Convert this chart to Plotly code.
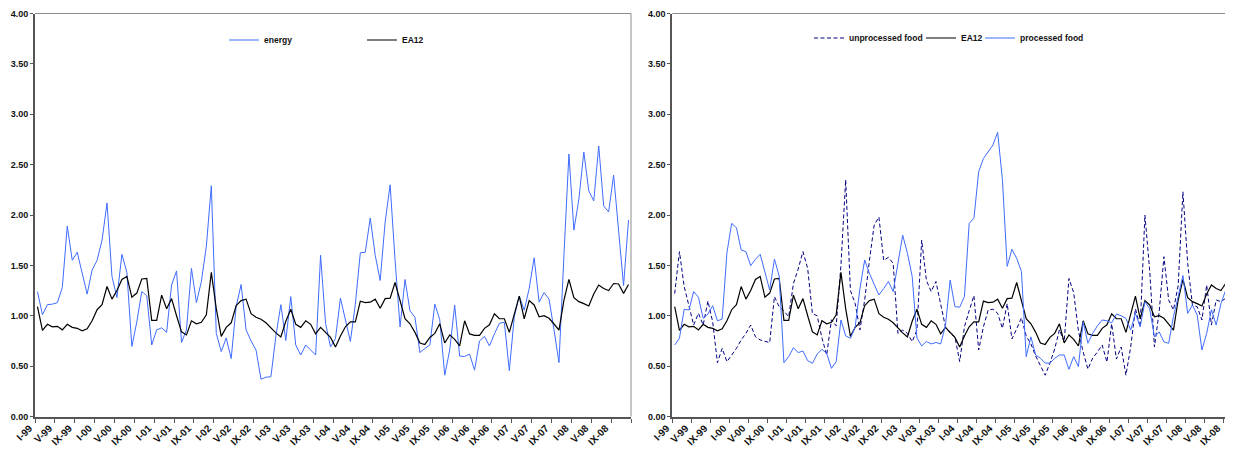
import plotly.graph_objects as go

# ---------------- data ----------------
tick_labels = ["I-99", "V-99", "IX-99", "I-00", "V-00", "IX-00", "I-01", "V-01", "IX-01",
               "I-02", "V-02", "IX-02", "I-03", "V-03", "IX-03", "I-04", "V-04", "IX-04",
               "I-05", "V-05", "IX-05", "I-06", "V-06", "IX-06", "I-07", "V-07", "IX-07",
               "I-08", "V-08", "IX-08"]

ea12 = [1.09, 0.855, 0.915, 0.89, 0.895, 0.86, 0.915, 0.885, 0.875, 0.85,
        0.87, 0.95, 1.06, 1.11, 1.29, 1.165, 1.25, 1.36, 1.39, 1.185,
        1.225, 1.365, 1.37, 0.955, 0.955, 1.205, 1.07, 1.17, 1.0, 0.84,
        0.81, 0.95, 0.92, 0.935, 1.01, 1.43, 1.07, 0.795, 0.885, 0.93,
        1.10, 1.15, 1.165, 1.02, 0.985, 0.965, 0.93, 0.875, 0.83, 0.79,
        0.945, 1.065, 0.915, 0.885, 0.95, 0.915, 0.82, 0.885, 0.835, 0.785,
        0.69, 0.80, 0.89, 0.94, 0.94, 1.145, 1.13, 1.135, 1.165, 1.075,
        1.17, 1.175, 1.33, 1.16, 0.97, 0.92, 0.835, 0.73, 0.715, 0.785,
        0.825, 0.92, 0.73, 0.81, 0.765, 0.70, 0.95, 0.82, 0.805, 0.805,
        0.875, 0.91, 1.02, 0.97, 0.97, 0.835, 1.025, 1.195, 0.97, 1.15,
        1.107, 0.99, 1.0, 0.975, 0.918, 0.858, 1.156, 1.36, 1.18, 1.14,
        1.12, 1.097, 1.216, 1.305, 1.27, 1.25, 1.32, 1.315, 1.222, 1.31]

energy = [1.24, 1.01, 1.11, 1.115, 1.13, 1.28, 1.89, 1.55, 1.63, 1.42,
          1.215, 1.455, 1.55, 1.75, 2.12, 1.39, 1.18, 1.61, 1.43, 0.695,
          0.94, 1.24, 1.20, 0.71, 0.86, 0.88, 0.835, 1.305, 1.445, 0.735,
          0.86, 1.47, 1.13, 1.34, 1.69, 2.29, 0.825, 0.645, 0.78, 0.575,
          1.09, 1.31, 0.86, 0.75, 0.66, 0.37, 0.39, 0.395, 0.80, 1.11,
          0.755, 1.19, 0.71, 0.61, 0.71, 0.66, 0.61, 1.60, 0.925, 0.69,
          0.775, 1.175, 0.96, 0.745, 1.115, 1.625, 1.63, 1.97, 1.60, 1.35,
          1.93, 2.30, 1.55, 0.89, 1.36, 1.05, 0.985, 0.635, 0.675, 0.71,
          1.115, 0.96, 0.41, 0.66, 1.105, 0.60, 0.595, 0.62, 0.46, 0.75,
          0.795, 0.70, 0.82, 0.925, 0.935, 0.455, 0.99, 1.195, 1.055, 1.27,
          1.575, 1.135, 1.23, 1.165, 0.86, 0.535, 1.60, 2.605, 1.85, 2.155,
          2.625, 2.24, 2.14, 2.685, 2.09, 2.03, 2.395, 1.85, 1.30, 1.95]

unprocessed_food = [1.22, 1.636, 1.29, 1.107, 0.908, 1.024, 0.908, 1.146, 0.94, 0.534,
                    0.676, 0.544, 0.61, 0.676, 0.76, 0.825, 0.908, 0.792, 0.76, 0.75,
                    0.733, 1.19, 1.09, 1.047, 0.99, 1.32, 1.464, 1.636, 1.47, 1.02,
                    1.0, 0.78, 0.61, 0.96, 0.90, 1.50, 2.35, 1.25, 1.12, 0.86,
                    1.156, 1.55, 1.90, 1.98, 1.55, 1.58, 1.52, 0.825, 0.858, 0.825,
                    0.743, 0.858, 1.75, 1.35, 1.24, 1.34, 1.12, 0.89, 0.825, 0.79,
                    0.545, 0.89, 1.05, 1.20, 0.66, 0.89, 1.057, 1.065, 1.024, 0.875,
                    1.12, 0.77, 0.87, 0.98, 0.80, 0.72, 0.60, 0.50, 0.41, 0.53,
                    0.67, 0.86, 0.74, 1.37, 1.23, 0.85, 0.64, 0.47, 0.58, 0.64,
                    0.71, 0.54, 0.92, 0.57, 0.69, 0.41, 0.69, 1.07, 0.89, 2.0,
                    1.45, 0.69, 1.04, 1.586, 1.156, 1.057, 1.30, 2.23, 1.52, 1.107,
                    1.09, 0.958, 1.305, 0.908, 1.156, 1.14, 1.173, 1.505, 1.48, 1.40]

processed_food = [0.71, 0.776, 1.064, 1.057, 1.24, 1.183, 0.974, 1.017, 1.10, 0.95,
                  0.967, 1.626, 1.917, 1.874, 1.653, 1.636, 1.497, 1.56, 1.61, 1.43,
                  1.256, 1.563, 1.394, 0.534, 0.594, 0.683, 0.634, 0.65, 0.554, 0.528,
                  0.62, 0.666, 0.627, 0.478, 0.544, 0.958, 0.80, 0.776, 0.89, 1.27,
                  1.553, 1.42, 1.305, 1.206, 1.27, 1.34, 1.24, 1.52, 1.80, 1.62,
                  1.39, 0.78, 0.70, 0.745, 0.72, 0.735, 0.72, 0.90, 1.355, 1.09,
                  1.085, 1.19, 1.917, 1.967, 2.43, 2.56, 2.63, 2.695, 2.82, 2.35,
                  1.49, 1.66, 1.57, 1.44, 0.594, 0.79, 0.61, 0.578, 0.53, 0.53,
                  0.578, 0.61, 0.61, 0.468, 0.594, 0.495, 0.94, 0.727, 0.826, 0.90,
                  0.958, 0.95, 0.93, 1.017, 1.0, 0.974, 0.858, 1.024, 0.89, 1.14,
                  1.07, 0.79, 0.84, 0.74, 0.727, 0.99, 1.19, 1.40, 1.024, 1.107,
                  1.007, 0.66, 0.825, 1.06, 0.908, 1.12, 1.255, 0.974, 1.10, 1.05]

months = list(range(len(ea12)))
tick_positions = months[::4]
boundaries = [m - 0.5 for m in months[::4]] + [len(months) - 0.5]

# ---------------- geometry (page px; the page body has an 8px margin) ----------------
OFF = 8
PAGE_W, PAGE_H = 1233, 455
W, H = PAGE_W - OFF, PAGE_H - OFF


def fx(px):
    return (px - OFF) / W


def fy(py):
    return (H - (py - OFF)) / H


BLUE = "#3f6cff"
NAVY = "#000080"
FONT = dict(family="Liberation Sans, Arial, sans-serif", size=9, color="#111", weight="bold")
XFONT = dict(family="Liberation Sans, Arial, sans-serif", size=10, color="#111", weight="bold")
LFONT = dict(family="Liberation Sans, Arial, sans-serif", size=8.5, color="#111", weight="bold")
AXIS = "#555555"
FRAME = "#8c8c8c"

ydom = [fy(416.5), fy(13.5)]
left_dom = [fx(35), fx(631)]
right_dom = [fx(672.3), 1.0]
right_px_per_month = 4.75
right_range = [-0.5, -0.5 + (PAGE_W - 672.3) / right_px_per_month]

fig = go.Figure()
fig.add_trace(go.Scatter(x=months, y=energy, name="energy", mode="lines", showlegend=True,
                         line=dict(color=BLUE, width=1), xaxis="x", yaxis="y", legend="legend"))
fig.add_trace(go.Scatter(x=months, y=ea12, name="EA12", mode="lines", showlegend=True,
                         line=dict(color="#000", width=1.2), xaxis="x", yaxis="y", legend="legend2"))
fig.add_trace(go.Scatter(x=months, y=unprocessed_food, name="unprocessed food", mode="lines",
                         showlegend=True,
                         line=dict(color=NAVY, width=1, dash="4px,2.5px"), xaxis="x2", yaxis="y2",
                         legend="legend3"))
fig.add_trace(go.Scatter(x=months, y=ea12, name="EA12", mode="lines", showlegend=True,
                         line=dict(color="#000", width=1.2), xaxis="x2", yaxis="y2", legend="legend4"))
fig.add_trace(go.Scatter(x=months, y=processed_food, name="processed food", mode="lines",
                         showlegend=True,
                         line=dict(color=BLUE, width=1), xaxis="x2", yaxis="y2", legend="legend5"))


def xaxis(domain, rng, anchor):
    return dict(domain=domain, range=rng, anchor=anchor, tickmode="array",
                tickvals=tick_positions, ticktext=tick_labels, tickangle=-45,
                ticks="", ticklabelstandoff=0, ticklabelshift=-8,
                showgrid=False, zeroline=False, showline=True,
                linecolor=AXIS, linewidth=2, tickfont=XFONT, automargin=False,
                minor=dict(tickmode="array", tickvals=boundaries, ticks="outside",
                           ticklen=4, tickwidth=1, tickcolor=AXIS, showgrid=False))


def yaxis(anchor):
    return dict(domain=ydom, range=[0, 4], anchor=anchor, tickmode="linear", tick0=0,
                dtick=0.5, tickformat=".2f", ticks="outside", ticklen=3, tickwidth=1,
                tickcolor=AXIS, showgrid=False, zeroline=False, showline=True,
                linecolor=AXIS, linewidth=2, tickfont=FONT, automargin=False)


def leg(text_px, ypx):
    # plotly puts the legend text 40px right of the legend's left edge
    return dict(x=fx(text_px - 40), y=fy(ypx), xanchor="left", yanchor="middle",
                orientation="h", font=LFONT, bgcolor="rgba(0,0,0,0)", borderwidth=0,
                itemwidth=30, tracegroupgap=0)


fig.update_layout(
    width=W, height=H, margin=dict(l=0, r=0, t=0, b=0), showlegend=True,
    paper_bgcolor="white", plot_bgcolor="white",
    xaxis=xaxis(left_dom, [-0.5, len(months) - 0.5], "y"),
    yaxis=yaxis("x"),
    xaxis2=xaxis(right_dom, right_range, "y2"),
    yaxis2=yaxis("x2"),
    legend=leg(264, 40),
    legend2=leg(402, 40),
    legend3=leg(849, 38),
    legend4=leg(961, 38),
    legend5=leg(1020, 38),
    shapes=[
        dict(type="line", xref="x domain", yref="y domain", x0=0, x1=1, y0=1, y1=1,
             line=dict(color=FRAME, width=1)),
        dict(type="line", xref="x domain", yref="y domain", x0=1, x1=1, y0=0, y1=1,
             line=dict(color=FRAME, width=1)),
        dict(type="line", xref="x2 domain", yref="y2 domain", x0=0, x1=1, y0=1, y1=1,
             line=dict(color=FRAME, width=1)),
    ],
)

fig.write_html("out.html")
